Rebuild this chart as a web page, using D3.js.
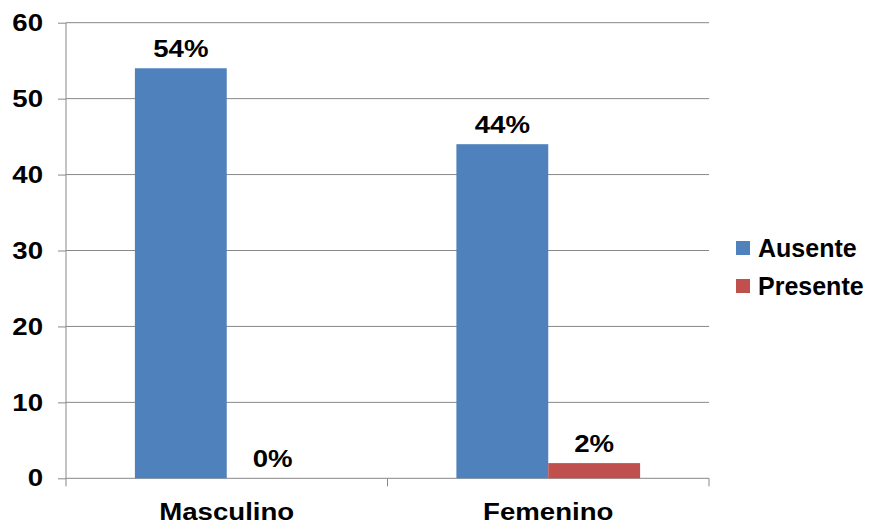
<!DOCTYPE html>
<html><head><meta charset="utf-8">
<script src="https://cdn.jsdelivr.net/npm/d3@7"></script>
<style>body{margin:0;background:#fff}text{font-family:"Liberation Sans",Arial,sans-serif;font-weight:bold;fill:#000}</style>
</head><body><svg id="c" width="872" height="524"></svg>
<script>
const categories = ["Masculino", "Femenino"];
const seriesNames = ["Ausente", "Presente"];
const ausente = [54, 44];
const presente = [0, 2];
const yTicks = [0, 10, 20, 30, 40, 50, 60];
const colors = ["#4F81BD", "#C0504D"];

const svg = d3.select("#c");
const L = 66, R = 709, T = 22.7, B = 478.3;
const SX = 1.15;
const x = d3.scaleBand().domain(categories).range([L, R]).paddingInner(0).paddingOuter(0);
const xs = d3.scaleBand().domain(seriesNames).range([0, x.bandwidth()]).paddingInner(0).paddingOuter(0.75);
const y = d3.scaleLinear().domain([0, 60]).range([B, T]);
const grid = "#888";

function stretch(sel) {
  sel.each(function () {
    const t = d3.select(this);
    const ax = +t.attr("x") || 0, ay = +t.attr("y") || 0;
    t.attr("x", 0).attr("y", 0).attr("transform", `translate(${ax},${ay}) scale(${SX},1)`);
  });
}

// gridlines
svg.append("g").selectAll("line").data(yTicks.filter(d => d > 0)).join("line")
  .attr("x1", L).attr("x2", R).attr("y1", d => y(d)).attr("y2", d => y(d))
  .attr("stroke", grid).attr("stroke-width", 1);

// y axis
const ya = svg.append("g").attr("transform", `translate(${L},0)`)
  .call(d3.axisLeft(y).tickValues(yTicks).tickSize(8).tickPadding(15));
ya.select(".domain").attr("stroke", grid).attr("d", `M-0,${T}V${B}`);
ya.selectAll(".tick line").attr("stroke", grid);
ya.selectAll(".tick text").attr("font-size", 24).attr("font-family", "'Liberation Sans', Arial").attr("font-weight", "bold").attr("fill", "#000").call(stretch);

// x axis
const xa = svg.append("g").attr("transform", `translate(0,${B})`)
  .call(d3.axisBottom(x).tickSize(0).tickPadding(25));
xa.select(".domain").attr("stroke", grid).attr("d", `M${L},0H${R}`);
xa.selectAll(".tick text").attr("font-size", 24).attr("font-family", "'Liberation Sans', Arial").attr("font-weight", "bold").attr("fill", "#000").call(stretch);
svg.append("g").selectAll("line").data([L, L + x.bandwidth(), R]).join("line")
  .attr("x1", d => d).attr("x2", d => d).attr("y1", B).attr("y2", B + 8).attr("stroke", grid);

const rows = [];
categories.forEach((c, i) => {
  rows.push({c, s: seriesNames[0], v: ausente[i], col: colors[0]});
  rows.push({c, s: seriesNames[1], v: presente[i], col: colors[1]});
});

svg.append("g").selectAll("rect").data(rows).join("rect")
  .attr("x", d => x(d.c) + xs(d.s)).attr("width", xs.bandwidth())
  .attr("y", d => y(d.v)).attr("height", d => B - y(d.v))
  .attr("fill", d => d.col);

svg.append("g").selectAll("text").data(rows).join("text")
  .attr("x", d => x(d.c) + xs(d.s) + xs.bandwidth() / 2)
  .attr("y", d => y(d.v) - 11)
  .attr("text-anchor", "middle").attr("font-size", 24)
  .text(d => d.v + "%").call(stretch);

// legend
const lg = svg.append("g").selectAll("g").data(seriesNames).join("g")
  .attr("transform", (d, i) => `translate(736,${241 + i * 38})`);
lg.append("rect").attr("width", 14).attr("height", 14).attr("fill", (d, i) => colors[i]);
lg.append("text").attr("x", 22).attr("y", 16).attr("font-size", 25).text(d => d);
</script></body></html>
